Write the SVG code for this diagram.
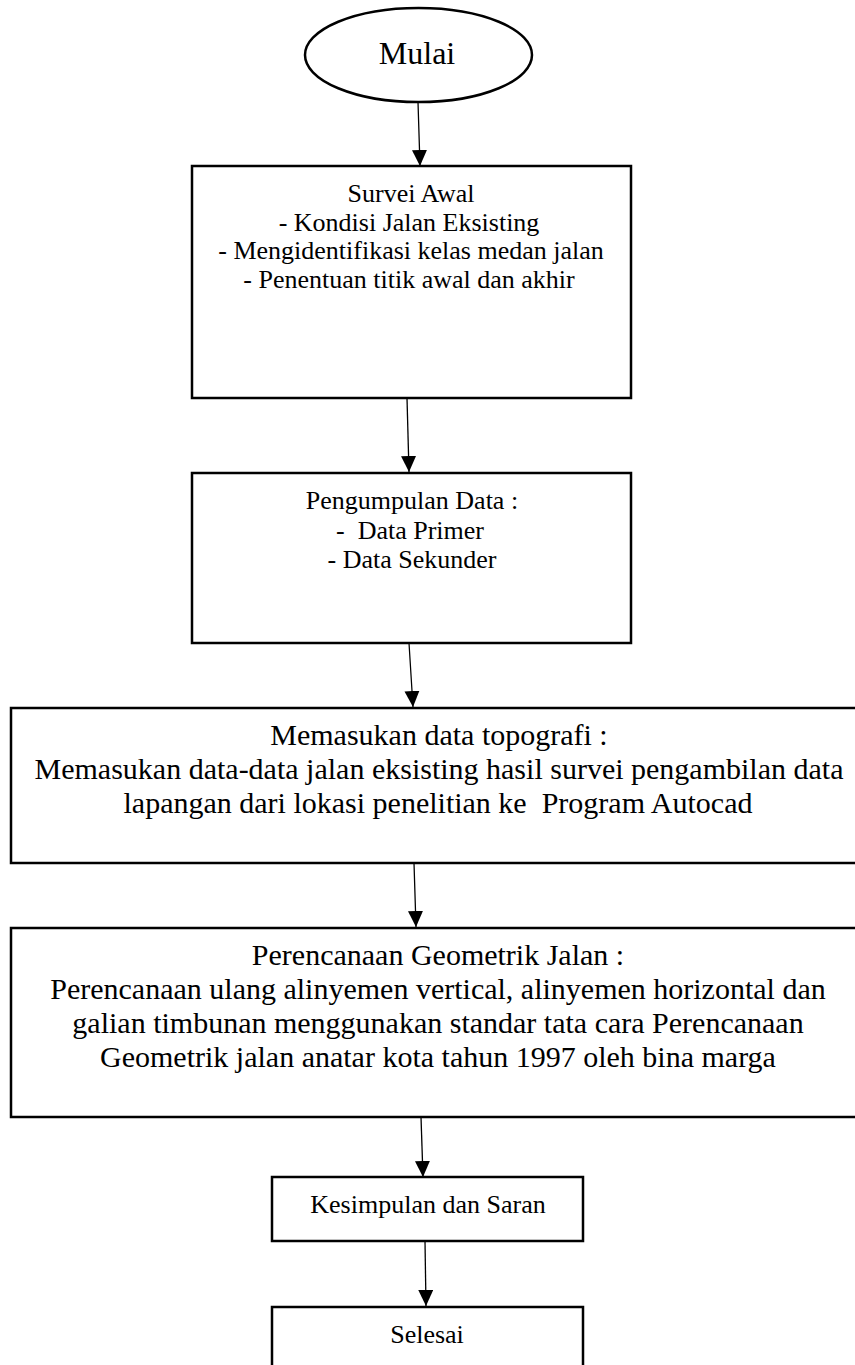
<svg xmlns="http://www.w3.org/2000/svg" width="855" height="1365" viewBox="0 0 855 1365">
<style>
.box{fill:#fff;stroke:#000;stroke-width:2.5}
.t{font-family:"Liberation Serif","Times New Roman",serif;fill:#000;text-anchor:middle;white-space:pre}
.s26{font-size:26px}
.s30{font-size:30px}
.s32{font-size:32px}
.c{stroke:#000;stroke-width:1.3;fill:none;marker-end:url(#ah)}
</style>
<defs>
<marker id="ah" markerUnits="userSpaceOnUse" markerWidth="16" markerHeight="18" refX="16" refY="7.5" orient="auto">
<path d="M0,0 L16,7.5 L0,15 Z" fill="#000"/>
</marker>
</defs>
<rect width="855" height="1365" fill="#fff"/>
<g id="connectors">
<line class="c" x1="418" y1="102" x2="420" y2="166"/>
<line class="c" x1="407" y1="398" x2="409" y2="472"/>
<line class="c" x1="409" y1="643" x2="413" y2="707"/>
<line class="c" x1="414" y1="863" x2="416" y2="927"/>
<line class="c" x1="421" y1="1117" x2="423" y2="1177"/>
<line class="c" x1="425" y1="1241" x2="426" y2="1306"/>
</g>
<g id="mulai">
<ellipse class="box" cx="418.5" cy="55" rx="113.5" ry="47"/>
<text class="t s32" x="417" y="64">Mulai</text>
</g>
<g id="survei">
<rect class="box" x="192" y="166" width="439" height="232"/>
<text class="t s26" x="411" y="202">Survei Awal</text>
<text class="t s26" x="409" y="231">- Kondisi Jalan Eksisting</text>
<text class="t s26" x="411" y="259">- Mengidentifikasi kelas medan jalan</text>
<text class="t s26" x="409" y="288">- Penentuan titik awal dan akhir</text>
</g>
<g id="pengumpulan">
<rect class="box" x="192" y="473" width="439" height="170"/>
<text class="t s26" x="412" y="509">Pengumpulan Data :</text>
<text class="t s26" x="410" y="539">-  Data Primer</text>
<text class="t s26" x="412" y="568">- Data Sekunder</text>
</g>
<g id="memasukan">
<rect class="box" x="11" y="708" width="900" height="155"/>
<text class="t s30" x="439" y="745">Memasukan data topografi :</text>
<text class="t s30" x="439" y="779">Memasukan data-data jalan eksisting hasil survei pengambilan data</text>
<text class="t s30" x="438" y="813">lapangan dari lokasi penelitian ke  Program Autocad</text>
</g>
<g id="perencanaan">
<rect class="box" x="11" y="928" width="900" height="189"/>
<text class="t s30" x="438" y="965">Perencanaan Geometrik Jalan :</text>
<text class="t s30" x="438" y="999">Perencanaan ulang alinyemen vertical, alinyemen horizontal dan</text>
<text class="t s30" x="438" y="1033">galian timbunan menggunakan standar tata cara Perencanaan</text>
<text class="t s30" x="438" y="1067">Geometrik jalan anatar kota tahun 1997 oleh bina marga</text>
</g>
<g id="kesimpulan">
<rect class="box" x="272" y="1177" width="311" height="64"/>
<text class="t s26" x="428" y="1213">Kesimpulan dan Saran</text>
</g>
<g id="selesai">
<rect class="box" x="272" y="1307" width="311" height="80"/>
<text class="t s26" x="427" y="1343">Selesai</text>
</g>
</svg>
